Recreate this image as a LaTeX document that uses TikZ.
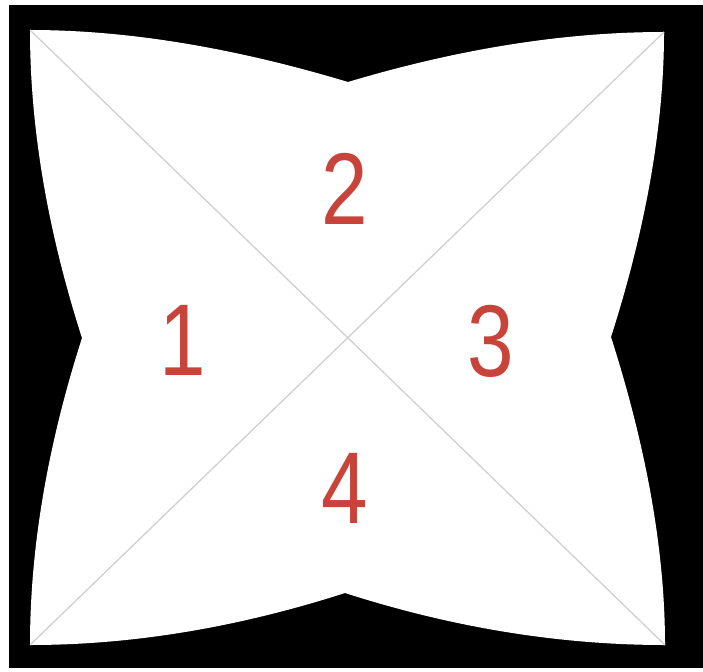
\documentclass[tikz,border=0pt]{standalone}
\usepackage{fontspec}
\setmainfont{Liberation Sans}
\newfontfamily\numfont[FakeStretch=0.82]{Liberation Sans}
\usetikzlibrary{calc}
\definecolor{numred}{HTML}{C8433A}
\definecolor{diaggray}{HTML}{D0D0D0}
\begin{document}
\begin{tikzpicture}[x=1pt,y=-1pt,
  num/.style={text=numred, font=\numfont\fontsize{102}{102}\selectfont, inner sep=0pt, anchor=center},
  diag/.style={draw=diaggray, line width=1.3pt}]
\useasboundingbox (0,0) rectangle (703,671);
\fill[white] (0,0) rectangle (703,671);
\fill[black] (9,5) rectangle (703,668);
% corners
\coordinate (A) at (30,30);
\coordinate (B) at (664,32);
\coordinate (C) at (665,645);
\coordinate (D) at (30,645);
% cusps
\coordinate (T) at (348,82);
\coordinate (R) at (611,337);
\coordinate (Bm) at (345,593);
\coordinate (L) at (82,338);
% quadratic control points
\coordinate (q1) at (175,30);
\coordinate (q2) at (515,32);
\coordinate (q3) at (664,171);
\coordinate (q4) at (665,506);
\coordinate (q5) at (507,645);
\coordinate (q6) at (183,645);
\coordinate (q7) at (30,500);
\coordinate (q8) at (30,176);
\fill[white]
  (A) .. controls ($(A)!2/3!(q1)$) and ($(T)!2/3!(q1)$) .. (T)
      .. controls ($(T)!2/3!(q2)$) and ($(B)!2/3!(q2)$) .. (B)
      .. controls ($(B)!2/3!(q3)$) and ($(R)!2/3!(q3)$) .. (R)
      .. controls ($(R)!2/3!(q4)$) and ($(C)!2/3!(q4)$) .. (C)
      .. controls ($(C)!2/3!(q5)$) and ($(Bm)!2/3!(q5)$) .. (Bm)
      .. controls ($(Bm)!2/3!(q6)$) and ($(D)!2/3!(q6)$) .. (D)
      .. controls ($(D)!2/3!(q7)$) and ($(L)!2/3!(q7)$) .. (L)
      .. controls ($(L)!2/3!(q8)$) and ($(A)!2/3!(q8)$) .. (A) -- cycle;
\draw[diag] (A) -- (C);
\draw[diag] (B) -- (D);
\node[num] (n1) at (183,340) {1};
\node[num] (n2) at (345,189) {2};
\node[num] (n3) at (491,341) {3};
\node[num] (n4) at (345,488) {4};
\end{tikzpicture}
\end{document}
